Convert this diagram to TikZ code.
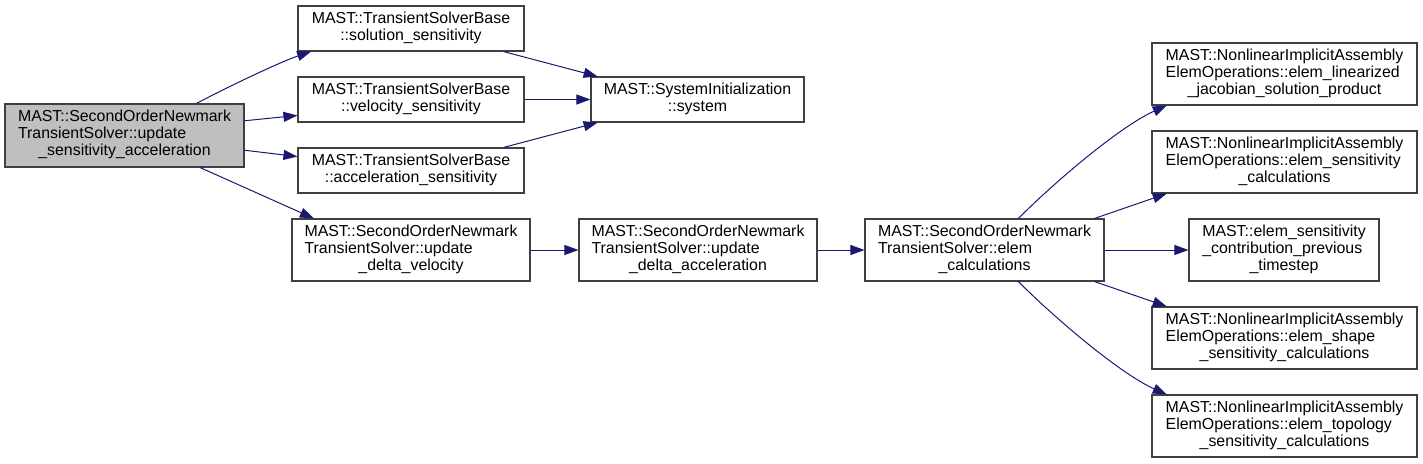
\documentclass[tikz,border=0pt]{standalone}
\usepackage{fontspec}
\setmainfont{Liberation Sans}
\usetikzlibrary{arrows.meta}
\definecolor{edgeblue}{RGB}{25,25,112}
\definecolor{boxgray}{RGB}{191,191,191}
\newcommand{\fntwo}[2]{\begin{tabular}{@{}l@{}}#1\\\multicolumn{1}{@{}c@{}}{#2}\end{tabular}}
\newcommand{\fnthree}[3]{\begin{tabular}{@{}l@{}}#1\\#2\\\multicolumn{1}{@{}c@{}}{#3}\end{tabular}}

\begin{document}
\begin{tikzpicture}[x=1pt,y=-1pt,
    fn/.style={draw=black!75, line width=1.1pt, inner sep=0pt, font=\fontsize{15.9}{17}\selectfont},
    call/.style={draw=edgeblue, line width=1pt, -{Triangle[length=14pt,width=10pt,color=edgeblue]}}]
    \useasboundingbox (0,0) rectangle (1423,463);

    % caller
    \node[fn, fill=boxgray, minimum width=239pt, minimum height=63pt] (root) at (124.5,135.5)
        {\fnthree{MAST::SecondOrderNewmark}{TransientSolver::update}{\_sensitivity\_acceleration}};

    % second column
    \node[fn, minimum width=226pt, minimum height=45pt] (sol) at (411,28.5)
        {\fntwo{MAST::TransientSolverBase}{::solution\_sensitivity}};
    \node[fn, minimum width=226pt, minimum height=45pt] (vel) at (411,99.5)
        {\fntwo{MAST::TransientSolverBase}{::velocity\_sensitivity}};
    \node[fn, minimum width=226pt, minimum height=45pt] (acc) at (411,170.5)
        {\fntwo{MAST::TransientSolverBase}{::acceleration\_sensitivity}};
    \node[fn, minimum width=238pt, minimum height=62pt] (udv) at (411,250)
        {\fnthree{MAST::SecondOrderNewmark}{TransientSolver::update}{\_delta\_velocity}};

    % third and fourth column
    \node[fn, minimum width=213pt, minimum height=45pt] (sys) at (697.5,99.5)
        {\fntwo{MAST::SystemInitialization}{::system}};
    \node[fn, minimum width=238pt, minimum height=62pt] (uda) at (698,250)
        {\fnthree{MAST::SecondOrderNewmark}{TransientSolver::update}{\_delta\_acceleration}};
    \node[fn, minimum width=239pt, minimum height=62pt] (elem) at (984.5,250)
        {\fnthree{MAST::SecondOrderNewmark}{TransientSolver::elem}{\_calculations}};

    % callees of elem_calculations
    \node[fn, minimum width=265pt, minimum height=62pt] (lin) at (1284.5,74)
        {\fnthree{MAST::NonlinearImplicitAssembly}{ElemOperations::elem\_linearized}{\_jacobian\_solution\_product}};
    \node[fn, minimum width=265pt, minimum height=62pt] (sens) at (1284.5,162)
        {\fnthree{MAST::NonlinearImplicitAssembly}{ElemOperations::elem\_sensitivity}{\_calculations}};
    \node[fn, minimum width=190pt, minimum height=62pt] (prev) at (1284,250)
        {\fnthree{MAST::elem\_sensitivity}{\_contribution\_previous}{\_timestep}};
    \node[fn, minimum width=265pt, minimum height=62pt] (shape) at (1284.5,338)
        {\fnthree{MAST::NonlinearImplicitAssembly}{ElemOperations::elem\_shape}{\_sensitivity\_calculations}};
    \node[fn, minimum width=265pt, minimum height=62pt] (topo) at (1284.5,426)
        {\fnthree{MAST::NonlinearImplicitAssembly}{ElemOperations::elem\_topology}{\_sensitivity\_calculations}};

    % calls
    \draw[call] (root.24) .. controls +(30,-16) and +(-30,10) .. (sol.193);
    \draw[call] (root.7) -- (vel.188);
    \draw[call] (root.-7) -- (acc.173);
    \draw[call] (root.-23) -- (udv.162);
    \draw[call] (sol.-14) -- (sys.167);
    \draw[call] (vel.east) -- (sys.west);
    \draw[call] (acc.14) -- (sys.193);
    \draw[call] (udv.east) -- (uda.west);
    \draw[call] (uda.east) -- (elem.west);
    \draw[call] (elem.43) .. controls +(40,-40) and +(-45,20) .. (lin.195);
    \draw[call] (elem.16) -- (sens.195);
    \draw[call] (elem.east) -- (prev.west);
    \draw[call] (elem.-16) -- (shape.165);
    \draw[call] (elem.-43) .. controls +(40,40) and +(-45,-20) .. (topo.165);
\end{tikzpicture}
\end{document}
